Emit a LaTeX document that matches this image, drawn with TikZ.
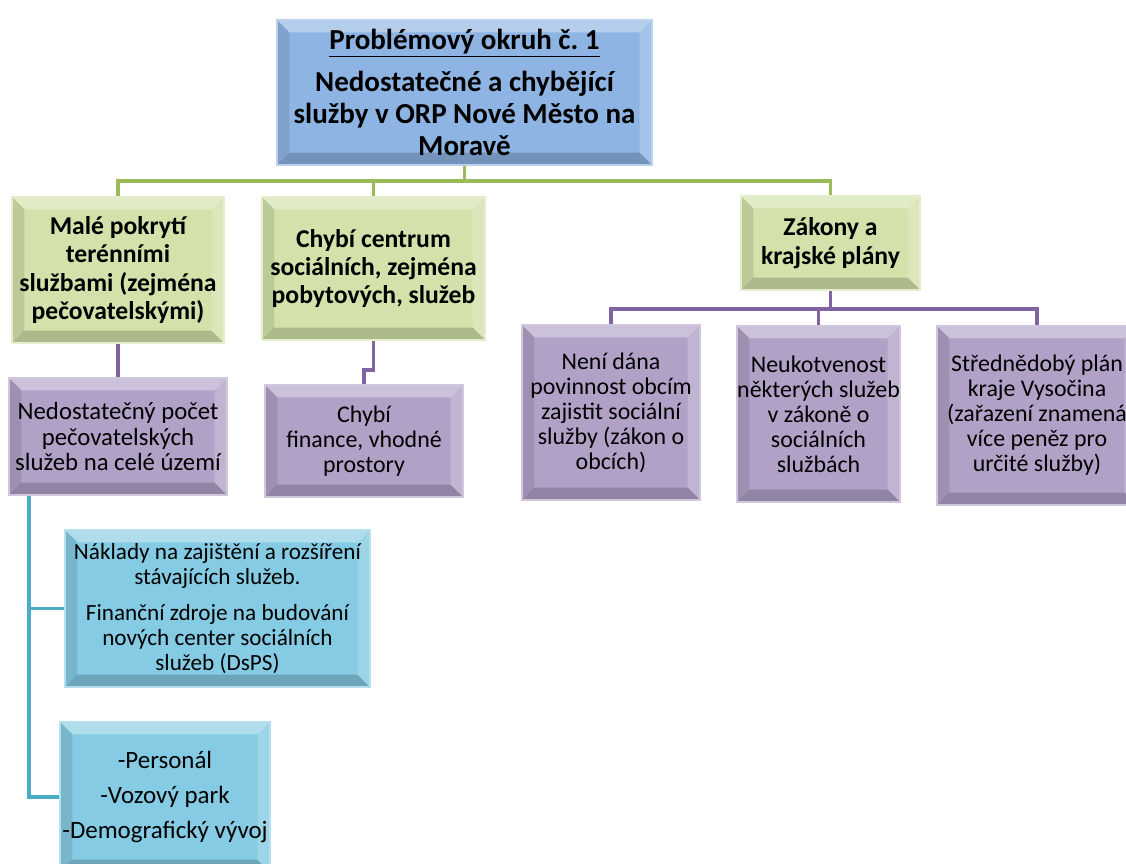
\documentclass[tikz,border=0pt]{standalone}
\usepackage{fontspec}
\setmainfont{Carlito}
\usetikzlibrary{calc}
\frenchspacing

\definecolor{rootblue}{RGB}{142,180,227}
\definecolor{lightgreen}{RGB}{210,226,170}
\definecolor{lightpurple}{RGB}{178,161,199}
\definecolor{lightblue}{RGB}{133,203,227}
\definecolor{linegreen}{RGB}{155,187,89}
\definecolor{linepurple}{RGB}{128,100,162}
\definecolor{lineblue}{RGB}{75,172,198}
\newcommand{\bvl}{7pt}

\tikzset{
  bevel/.style={path picture={
    \path (path picture bounding box.south west) coordinate (bvsw)
          (path picture bounding box.north east) coordinate (bvne)
          (path picture bounding box.north west) coordinate (bvnw)
          (path picture bounding box.south east) coordinate (bvse);
    \fill[white,opacity=.35] (bvnw) -- (bvne) -- ([shift={(-\bvl,-\bvl)}]bvne) -- ([shift={(\bvl,-\bvl)}]bvnw) -- cycle;
    \fill[black,opacity=.10] (bvnw) -- (bvsw) -- ([shift={(\bvl,\bvl)}]bvsw) -- ([shift={(\bvl,-\bvl)}]bvnw) -- cycle;
    \fill[white,opacity=.20] (bvne) -- (bvse) -- ([shift={(-\bvl,\bvl)}]bvse) -- ([shift={(-\bvl,-\bvl)}]bvne) -- cycle;
    \fill[black,opacity=.18] (bvsw) -- (bvse) -- ([shift={(-\bvl,\bvl)}]bvse) -- ([shift={(\bvl,\bvl)}]bvsw) -- cycle;
  }},
  box/.style={bevel, align=center, inner sep=0pt, line width=1pt},
  rootbox/.style={box, fill=rootblue, draw=rootblue!60!white,
    font=\fontsize{16.5}{18.2}\selectfont\bfseries},
  greenbox/.style={box, fill=lightgreen, draw=lightgreen!60!white,
    font=\fontsize{14.6}{16.2}\selectfont\bfseries},
  purplebox/.style={box, fill=lightpurple, draw=lightpurple!60!white,
    font=\fontsize{13.6}{14.2}\selectfont},
  bluebox/.style={box, fill=lightblue, draw=lightblue!60!white,
    font=\fontsize{13.2}{14.2}\selectfont},
  gline/.style={draw=linegreen, line width=2.2pt},
  pline/.style={draw=linepurple, line width=2.2pt},
  bline/.style={draw=lineblue, line width=2.2pt}
}

\begin{document}
\begin{tikzpicture}[x=0.02cm, y=-0.02cm]
  \fill[white] (0,0) rectangle (1126,864);
  \useasboundingbox (0,0) rectangle (1126,864);

  % top level
  \node[rootbox, minimum width=7.5cm, minimum height=2.9cm] (root) at (464.5,92.5)
    {\underline{Problémový okruh č. 1}\\[6pt]
     Nedostatečné a chybějící\\ služby v ORP Nové Město na\\ Moravě};

  % second level
  \node[greenbox, minimum width=4.24cm, minimum height=2.92cm] (g1) at (118,270)
    {Malé pokrytí\\ terénními\\ službami (zejména\\ pečovatelskými)};
  \node[greenbox, minimum width=4.46cm, minimum height=2.86cm] (g2) at (373.5,268.5)
    {Chybí centrum\\ sociálních, zejména\\ pobytových, služeb};
  \node[greenbox, minimum width=3.58cm, minimum height=1.88cm] (g3) at (830.5,243)
    {Zákony a\\ krajské plány};

  % third level
  \node[purplebox, minimum width=4.36cm, minimum height=2.34cm, font=\fontsize{14.1}{14.4}\selectfont] (p1) at (118,436.5)
    {Nedostatečný počet\\ pečovatelských\\ služeb na celé území};
  \node[purplebox, minimum width=3.96cm, minimum height=2.24cm] (p2) at (364,441)
    {Chybí\\ finance, vhodné\\ prostory};
  \node[purplebox, minimum width=3.56cm, minimum height=3.5cm] (p3) at (611,412.5)
    {Není dána\\ povinnost obcím\\ zajistit sociální\\ služby (zákon o\\ obcích)};
  \node[purplebox, minimum width=3.26cm, minimum height=3.52cm] (p4) at (818.5,414)
    {Neukotvenost\\ některých služeb\\ v zákoně o\\ sociálních\\ službách};
  \node[purplebox, minimum width=4.0cm, minimum height=3.58cm] (p5) at (1037,415.5)
    {Střednědobý plán\\ kraje Vysočina\\ (zařazení znamená\\ více peněz pro\\ určité služby)};

  % fourth level
  \node[bluebox, minimum width=6.1cm, minimum height=3.14cm] (b1) at (217.5,608.5)
    {Náklady na zajištění a rozšíření\\ stávajících služeb.\\[6pt]
     Finanční zdroje na budování\\ nových center sociálních\\ služeb (DsPS)};
  \node[bluebox, minimum width=4.2cm, minimum height=3.0cm, font=\fontsize{14.2}{14.4}\selectfont] (b2) at (165,797)
    {-Personál\\[5.5pt] -Vozový park\\[5.5pt] -Demografický vývoj};

  % connectors
  \path (root.south) ++(0,15) coordinate (gbar);
  \draw[gline] (root.south) -- (gbar);
  \foreach \n in {g1,g2,g3}
    \draw[gline] (\n.north) |- (gbar);

  \path (g3.south) ++(0,18) coordinate (pbar);
  \draw[pline] (g3.south) -- (pbar);
  \foreach \n in {p3,p4,p5}
    \draw[pline] (\n.north) |- (pbar);

  \draw[pline] (g1.south) -- (p1.north);
  \draw[pline] (g2.south) -- ++(0,29) -| (p2.north);

  \path (p1.south west) ++(21,0) coordinate (btop);
  \draw[bline] (btop |- b1.west) -- (b1.west);
  \draw[bline] (btop) |- (b2.west);
\end{tikzpicture}
\end{document}
